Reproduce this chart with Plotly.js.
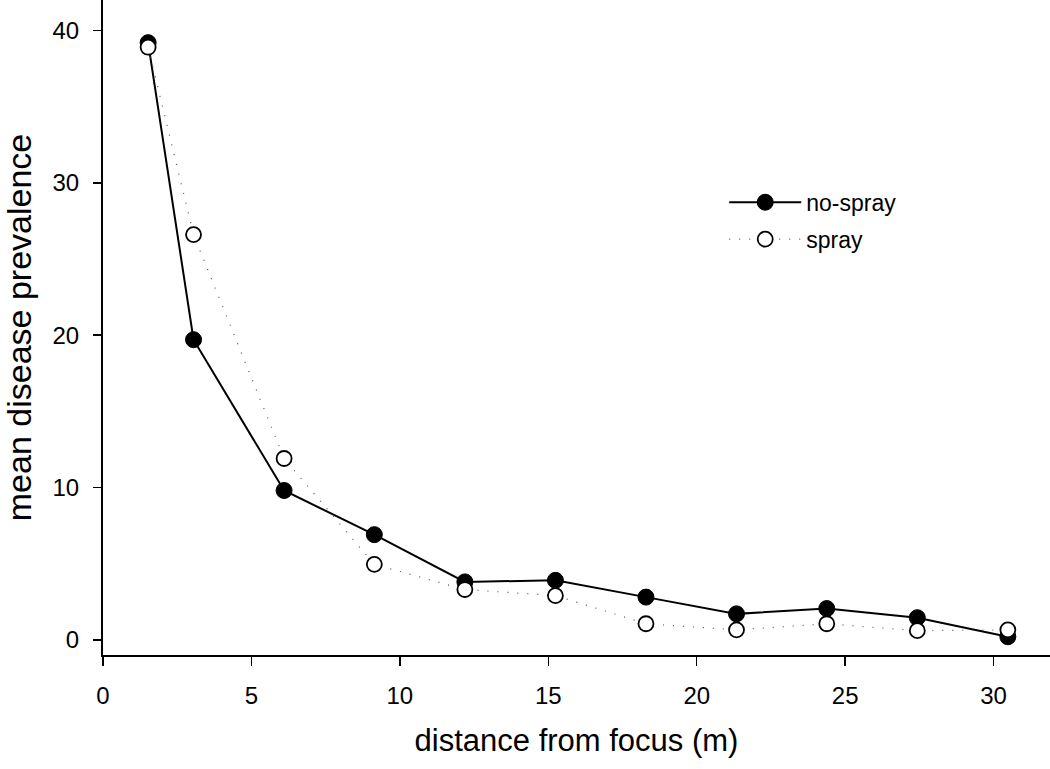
<!DOCTYPE html>
<html>
<head>
<meta charset="utf-8">
<script src="https://cdn.plot.ly/plotly-3.0.1.min.js"></script>
<style>html,body{margin:0;padding:0;background:#fff;}#chart{width:1050px;height:769px;}</style>
</head>
<body>
<div id="chart"></div>
<script>
var distance = [1.52, 3.05, 6.1, 9.14, 12.19, 15.24, 18.29, 21.34, 24.38, 27.43, 30.48];
var noSpray = [39.2, 19.7, 9.8, 6.9, 3.8, 3.9, 2.8, 1.7, 2.05, 1.45, 0.2];
var spray = [38.9, 26.6, 11.9, 4.95, 3.3, 2.9, 1.05, 0.65, 1.05, 0.6, 0.65];
var xTicks = [0, 5, 10, 15, 20, 25, 30];
var yTicks = [0, 10, 20, 30, 40];

var traces = [
  {
    x: distance, y: noSpray, name: 'no-spray', type: 'scatter', mode: 'lines+markers',
    legendgroup: 'a',
    line: {color: '#000', width: 2},
    marker: {symbol: 'circle', size: 16, color: '#000', line: {color: '#000', width: 1}}
  },
  {
    x: distance, y: spray, name: 'spray', type: 'scatter', mode: 'lines+markers',
    legendgroup: 'b',
    line: {color: '#555', width: 1.2, dash: '1px,9px'},
    marker: {symbol: 'circle', size: 15, color: '#fff', line: {color: '#000', width: 1.8}}
  }
];

var layout = {
  width: 1050, height: 769,
  margin: {l: 103, r: 0, t: 0, b: 114},
  paper_bgcolor: '#fff', plot_bgcolor: '#fff',
  font: {family: '"Liberation Sans", Arial, sans-serif', color: '#000'},
  showlegend: true,
  legend: {
    x: 0.656, y: 0.724, xanchor: 'left', yanchor: 'top',
    font: {size: 23, color: '#000'}, bgcolor: 'rgba(0,0,0,0)',
    traceorder: 'grouped', tracegroupgap: 4, itemwidth: 72
  },
  xaxis: {
    range: [0, 31.9], tickvals: xTicks, ticktext: xTicks.map(String),
    showgrid: false, zeroline: false, showline: true, linecolor: '#000', linewidth: 2,
    ticks: 'outside', ticklen: 9, tickwidth: 1.5, tickcolor: '#000',
    tickfont: {size: 24}, ticklabelstandoff: 9,
    title: {text: 'distance from focus (m)', font: {size: 31}, standoff: 22}
  },
  yaxis: {
    range: [-1, 42], tickvals: yTicks, ticktext: yTicks.map(String),
    showgrid: false, zeroline: false, showline: true, linecolor: '#000', linewidth: 2,
    ticks: 'outside', ticklen: 8, tickwidth: 1.5, tickcolor: '#000',
    tickfont: {size: 24}, ticklabelstandoff: 9,
    title: {text: 'mean disease prevalence', font: {size: 34}, standoff: 14}
  }
};

Plotly.newPlot('chart', traces, layout, {displayModeBar: false, staticPlot: true});
</script>
</body>
</html>
